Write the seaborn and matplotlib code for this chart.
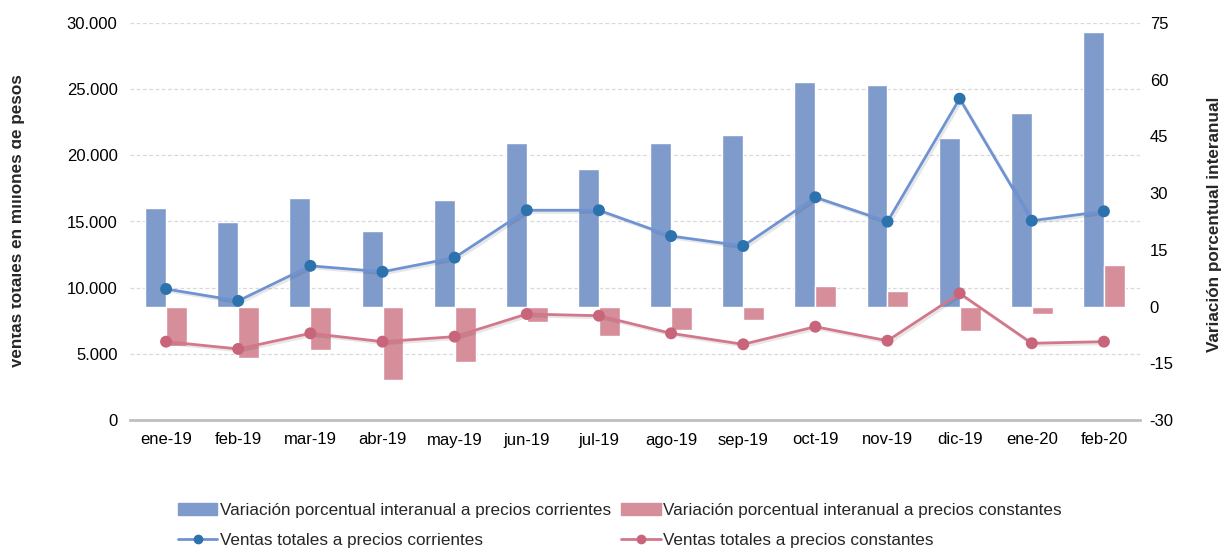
import numpy as np
import pandas as pd
import matplotlib
matplotlib.use("Agg")
import matplotlib.pyplot as plt
import matplotlib.patheffects as pe
from matplotlib.patches import Patch
from matplotlib.lines import Line2D
from matplotlib.ticker import FuncFormatter
from matplotlib.transforms import Bbox
import seaborn as sns

sns.set_theme(style="white")
plt.rcParams["font.family"] = ["Liberation Sans", "DejaVu Sans"]
plt.rcParams["axes.unicode_minus"] = False

meses = ["ene-19", "feb-19", "mar-19", "abr-19", "may-19", "jun-19", "jul-19",
         "ago-19", "sep-19", "oct-19", "nov-19", "dic-19", "ene-20", "feb-20"]
var_corr = [26.0, 22.3, 28.6, 19.9, 28.2, 43.3, 36.5, 43.3, 45.3, 59.3, 58.5, 44.6, 51.2, 72.5]
var_const = [-10.4, -13.7, -11.5, -19.4, -14.6, -4.0, -7.7, -6.2, -3.6, 5.4, 4.2, -6.5, -2.0, 11.1]
ventas_corr = [9900, 9000, 11650, 11200, 12270, 15850, 15850, 13900, 13150, 16830, 14990, 24280, 15060, 15770]
ventas_const = [5920, 5370, 6550, 5920, 6300, 8010, 7880, 6550, 5720, 7050, 5990, 9570, 5800, 5920]

LBL_BAR_CORR = "Variación porcentual interanual a precios corrientes"
LBL_BAR_CONST = "Variación porcentual interanual a precios constantes"
LBL_LIN_CORR = "Ventas totales a precios corrientes"
LBL_LIN_CONST = "Ventas totales a precios constantes"

BLUE_BAR, PINK_BAR = "#7F9BCC", "#D58E9A"
BLUE_LINE, BLUE_MK = "#6F93D2", "#2C73AE"
PINK_LINE, PINK_MK = "#D3788A", "#C9657A"
GRIS = "#BFBFBF"

bars = pd.DataFrame({
    "mes": meses * 2,
    "valor": var_corr + var_const,
    "serie": [LBL_BAR_CORR] * len(meses) + [LBL_BAR_CONST] * len(meses),
})

fig = plt.figure(figsize=(12.24, 5.48), dpi=100)
ax = fig.add_axes([130 / 1224, 128 / 548, 1010 / 1224, 397 / 548])
ax2 = ax.twinx()   # barras (% interanual)
ax3 = ax.twinx()   # lineas encima de las barras

# barras sobre eje derecho
sns.barplot(data=bars, x="mes", y="valor", hue="serie", order=meses,
            palette=[BLUE_BAR, PINK_BAR], width=0.58, saturation=1,
            legend=False, ax=ax2)

# lineas sobre eje izquierdo (ax3 comparte escala con ax)
x = np.arange(len(meses))
sombra = [pe.SimpleLineShadow(offset=(1.5, -1.5), alpha=0.1), pe.Normal()]
for vals, lc, mc in [(ventas_corr, BLUE_LINE, BLUE_MK), (ventas_const, PINK_LINE, PINK_MK)]:
    sns.lineplot(x=x, y=vals, ax=ax3, color=lc, linewidth=2, marker="o", markersize=8.6,
                 markerfacecolor=mc, markeredgecolor=mc, markeredgewidth=0,
                 path_effects=sombra)

for a in (ax, ax2, ax3):
    a.set_xlim(-0.5, len(meses) - 0.5)
ax.set_ylim(0, 30000)
ax3.set_ylim(0, 30000)
ax2.set_ylim(-30, 75)

ax.set_yticks(np.arange(0, 30001, 5000))
ax.yaxis.set_major_formatter(FuncFormatter(lambda v, p: f"{v:,.0f}".replace(",", ".")))
ax2.set_yticks(np.arange(-30, 76, 15))
ax.yaxis.grid(True, linestyle=(0, (3, 2)), color="#D9D9D9", linewidth=0.9)
ax.xaxis.grid(False)
ax2.grid(False)
ax3.grid(False)

ax.set_xticks(x, meses)
ax.set_xticks(np.arange(-0.5, len(meses)), minor=True)
ax.tick_params(axis="x", which="major", length=0, labelsize=12, colors="black", pad=9)
ax.tick_params(axis="x", which="minor", length=5, width=1.5, color=GRIS, direction="out")
ax.tick_params(axis="y", length=0, labelsize=12, colors="black", pad=9)
ax2.tick_params(axis="y", length=0, labelsize=12, colors="black", pad=7)
ax3.yaxis.set_visible(False)
ax3.xaxis.set_visible(False)

for a in (ax, ax2, ax3):
    for s in a.spines.values():
        s.set_visible(False)
ax.spines["bottom"].set_visible(True)
ax.spines["bottom"].set_color(GRIS)
ax.spines["bottom"].set_linewidth(2)
ax.set_xlabel("")
ax.set_ylabel("")
ax2.set_xlabel("")
ax2.set_ylabel("")

# titulo del eje izquierdo, recortado en el borde como en el original
t = fig.text(25 / 1224, 1 - 221 / 548, "Ventas totales en millones de pesos", rotation=90,
             ha="right", va="center", fontsize=12.3, fontweight="bold")
t.set_clip_box(Bbox.from_extents(12, 0, 60, 548))
t.set_clip_on(True)
fig.text(1207 / 1224, 1 - 224 / 548, "Variación porcentual interanual", rotation=90,
         ha="left", va="center", fontsize=12.3, fontweight="bold")

handles = [
    Patch(color=BLUE_BAR, label=LBL_BAR_CORR),
    Line2D([], [], color=BLUE_LINE, lw=2, marker="o", markersize=6, markerfacecolor=BLUE_MK,
           markeredgecolor=BLUE_MK, label=LBL_LIN_CORR),
    Patch(color=PINK_BAR, label=LBL_BAR_CONST),
    Line2D([], [], color=PINK_LINE, lw=2, marker="o", markersize=6, markerfacecolor=PINK_MK,
           markeredgecolor=PINK_MK, label=LBL_LIN_CONST),
]
fig.legend(handles=handles, ncol=2, loc="upper center", bbox_to_anchor=(620 / 1224, 1 - 503 / 548),
           frameon=False, fontsize=12.3, handlelength=2.3, handletextpad=0.15, columnspacing=0.6,
           labelspacing=0.9, borderaxespad=0, borderpad=0)

fig.savefig("out.png", dpi=100)
